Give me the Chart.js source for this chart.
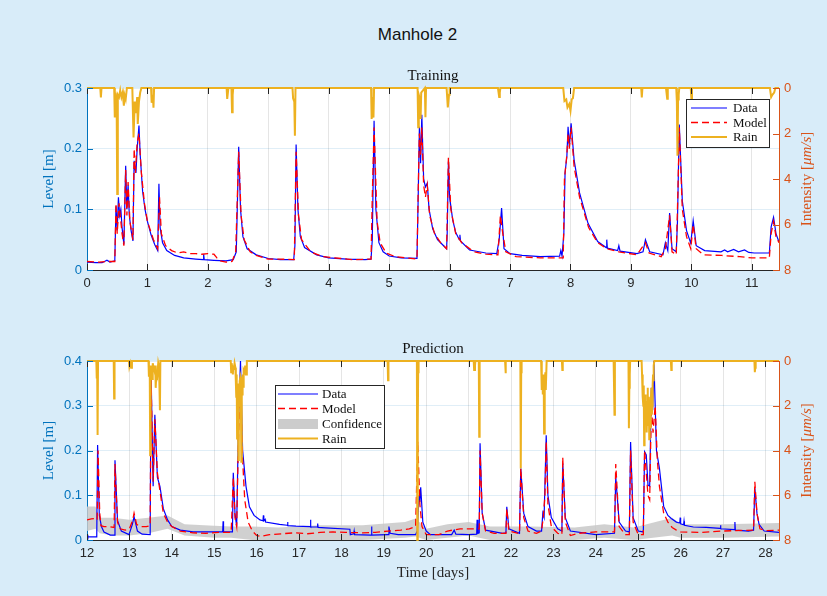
<!DOCTYPE html>
<html>
<head>
<meta charset="utf-8">
<script src="https://cdn.jsdelivr.net/npm/chart.js@4.4.0/dist/chart.umd.min.js"></script>
<style>
  body { margin: 0; }
  #fig { position: relative; width: 827px; height: 596px; background: #d8ecf9; overflow: hidden; }
  canvas { position: absolute; left: 0; }
  .sub { position: absolute; left: 87px; width: 692px; text-align: center; font: 15px 'Liberation Serif', serif; color: #111; line-height: 18px; }
  #title { position: absolute; left: 4px; width: 827px; top: 25px; text-align: center; font: 17px 'Liberation Sans', Arial, sans-serif; color: #111; line-height: 20px; }
</style>
</head>
<body>
<div id="fig">
  <canvas id="c1" width="827" height="240" style="top:60px"></canvas>
  <canvas id="c2" width="827" height="266" style="top:330px"></canvas>
  <div id="title">Manhole 2</div>
  <div class="sub" style="top:66px">Training</div>
  <div class="sub" style="top:339px">Prediction</div>
</div>
<script>
// tick labels
const trainTicks = [0, 1, 2, 3, 4, 5, 6, 7, 8, 9, 10, 11];
const predTicks = [12, 13, 14, 15, 16, 17, 18, 19, 20, 21, 22, 23, 24, 25, 26, 27, 28];
const trainLevelTicks = [0, 0.1, 0.2, 0.3];
const predLevelTicks = [0, 0.1, 0.2, 0.3, 0.4];
const rainTicks = [0, 2, 4, 6, 8];

// training: [day, level m]
const trainData = [[0,0.013],[0.15,0.012],[0.25,0.012],[0.33,0.016],[0.38,0.013],[0.46,0.015],[0.48,0.105],[0.50,0.065],[0.52,0.12],[0.54,0.09],[0.56,0.1],[0.58,0.07],[0.61,0.042],[0.64,0.172],[0.66,0.1],[0.68,0.14],[0.70,0.09],[0.73,0.065],[0.76,0.048],[0.78,0.18],[0.80,0.165],[0.81,0.16],[0.83,0.2],[0.86,0.238],[0.88,0.19],[0.92,0.13],[0.96,0.1],[1.0,0.08],[1.06,0.058],[1.12,0.042],[1.17,0.032],[1.19,0.142],[1.21,0.07],[1.25,0.045],[1.32,0.032],[1.45,0.024],[1.6,0.02],[1.8,0.018],[1.92,0.017],[1.93,0.026],[1.94,0.017],[2.1,0.016],[2.3,0.015],[2.42,0.017],[2.47,0.03],[2.51,0.203],[2.54,0.1],[2.58,0.055],[2.65,0.035],[2.8,0.025],[3.0,0.019],[3.2,0.017],[3.42,0.017],[3.44,0.04],[3.46,0.207],[3.49,0.1],[3.53,0.055],[3.6,0.037],[3.8,0.025],[4.0,0.02],[4.3,0.018],[4.6,0.017],[4.70,0.018],[4.72,0.05],[4.75,0.246],[4.78,0.1],[4.83,0.045],[4.9,0.03],[5.0,0.023],[5.2,0.02],[5.46,0.019],[5.48,0.12],[5.50,0.236],[5.52,0.176],[5.54,0.256],[5.57,0.15],[5.60,0.137],[5.63,0.143],[5.66,0.1],[5.72,0.068],[5.8,0.05],[5.88,0.042],[5.95,0.035],[5.96,0.06],[5.98,0.179],[6.0,0.12],[6.05,0.083],[6.1,0.062],[6.16,0.05],[6.17,0.058],[6.18,0.048],[6.33,0.033],[6.6,0.028],[6.78,0.027],[6.82,0.05],[6.86,0.102],[6.9,0.035],[7.0,0.027],[7.2,0.024],[7.5,0.022],[7.82,0.023],[7.84,0.032],[7.86,0.023],[7.89,0.06],[7.91,0.16],[7.94,0.187],[7.96,0.236],[7.98,0.203],[8.01,0.242],[8.06,0.181],[8.15,0.127],[8.29,0.077],[8.45,0.047],[8.59,0.037],[8.60,0.05],[8.61,0.036],[8.78,0.032],[8.80,0.04],[8.82,0.031],[9.1,0.027],[9.2,0.03],[9.24,0.05],[9.31,0.03],[9.53,0.025],[9.57,0.045],[9.61,0.032],[9.64,0.094],[9.68,0.035],[9.75,0.03],[9.77,0.08],[9.80,0.24],[9.85,0.114],[9.92,0.065],[9.99,0.044],[10.03,0.081],[10.08,0.04],[10.22,0.032],[10.49,0.03],[10.55,0.033],[10.6,0.03],[10.7,0.034],[10.78,0.03],[10.88,0.033],[10.95,0.029],[11.04,0.028],[11.29,0.028],[11.32,0.071],[11.36,0.087],[11.40,0.06],[11.45,0.046]];

const trainModel = [[0,0.014],[0.2,0.013],[0.33,0.014],[0.46,0.014],[0.48,0.11],[0.50,0.06],[0.53,0.11],[0.55,0.09],[0.58,0.06],[0.61,0.04],[0.64,0.165],[0.66,0.09],[0.68,0.145],[0.71,0.08],[0.76,0.05],[0.78,0.2],[0.80,0.16],[0.83,0.21],[0.86,0.225],[0.9,0.16],[0.95,0.11],[1.0,0.08],[1.1,0.05],[1.17,0.035],[1.2,0.12],[1.23,0.06],[1.3,0.04],[1.4,0.032],[1.5,0.028],[1.6,0.03],[1.7,0.027],[1.8,0.027],[1.9,0.026],[2.0,0.027],[2.1,0.026],[2.15,0.02],[2.2,0.015],[2.3,0.013],[2.4,0.014],[2.46,0.03],[2.51,0.195],[2.55,0.09],[2.6,0.05],[2.7,0.03],[2.8,0.024],[3.0,0.018],[3.2,0.018],[3.43,0.017],[3.46,0.195],[3.5,0.09],[3.55,0.05],[3.7,0.03],[3.9,0.022],[4.1,0.02],[4.4,0.017],[4.7,0.018],[4.72,0.12],[4.75,0.235],[4.8,0.08],[4.85,0.045],[4.95,0.028],[5.1,0.022],[5.46,0.018],[5.48,0.13],[5.50,0.225],[5.52,0.19],[5.54,0.235],[5.57,0.14],[5.60,0.12],[5.63,0.14],[5.67,0.09],[5.75,0.06],[5.85,0.045],[5.95,0.035],[5.98,0.185],[6.02,0.1],[6.1,0.06],[6.2,0.045],[6.4,0.03],[6.6,0.026],[6.8,0.025],[6.84,0.09],[6.88,0.06],[6.93,0.03],[7.1,0.022],[7.5,0.02],[7.88,0.02],[7.9,0.15],[7.94,0.19],[7.96,0.225],[7.98,0.2],[8.01,0.235],[8.06,0.17],[8.15,0.12],[8.3,0.07],[8.45,0.045],[8.6,0.035],[8.8,0.03],[9.1,0.025],[9.24,0.045],[9.3,0.028],[9.5,0.022],[9.57,0.035],[9.64,0.09],[9.68,0.03],[9.75,0.025],[9.78,0.14],[9.80,0.235],[9.85,0.1],[9.92,0.055],[9.99,0.035],[10.03,0.075],[10.08,0.035],[10.2,0.025],[10.5,0.024],[10.8,0.022],[11.0,0.02],[11.29,0.02],[11.32,0.06],[11.36,0.08],[11.40,0.055],[11.45,0.045]];

// rain intensity [um/s]
const trainRain = [[0,0],[0.22,0],[0.23,0.41],[0.24,0],[0.45,0],[0.46,1.3],[0.47,0.2],[0.49,0.5],[0.50,4.66],[0.51,0.3],[0.53,0.4],[0.55,0.1],[0.57,0.4],[0.59,0.2],[0.61,0.78],[0.62,0.3],[0.64,0.5],[0.66,0],[0.75,0],[0.77,2.17],[0.79,0.6],[0.81,1.1],[0.83,0.4],[0.84,1.58],[0.86,0.6],[0.88,0.2],[0.90,0],[1.06,0],[1.07,0.65],[1.09,0.3],[1.10,0.87],[1.11,0],[2.31,0],[2.32,0.48],[2.34,0],[2.39,0],[2.40,1.07],[2.41,0.3],[2.42,0],[3.40,0],[3.41,0.45],[3.43,0.6],[3.44,2.1],[3.45,0],[4.70,0],[4.71,1.36],[4.72,0.4],[4.74,1.3],[4.75,0],[5.47,0],[5.48,1.73],[5.49,0.3],[5.51,0.5],[5.52,1.36],[5.53,0.2],[5.59,0],[5.60,1.29],[5.61,0],[5.95,0],[5.97,0.85],[5.99,0.3],[6.0,0],[6.80,0],[6.82,0.4],[6.83,0.2],[6.84,0],[7.88,0],[7.90,0.57],[7.93,0.5],[7.95,0.85],[7.98,0.7],[8.0,1.0],[8.02,0.5],[8.04,0.45],[8.06,0],[9.17,0],[9.18,0.41],[9.19,0],[9.58,0],[9.60,0.47],[9.61,0],[9.75,0],[9.76,0.6],[9.77,2.98],[9.78,0.5],[9.79,0.3],[9.80,0],[9.99,0],[10.0,0.45],[10.01,0],[11.30,0],[11.32,0.4],[11.34,0.3],[11.37,0.2],[11.39,0],[11.45,0]];

// prediction
const predData = [[12.0,0.012],[12.02,0.007],[12.23,0.007],[12.25,0.212],[12.29,0.056],[12.34,0.03],[12.4,0.018],[12.55,0.011],[12.64,0.011],[12.66,0.178],[12.72,0.043],[12.81,0.02],[12.99,0.012],[13.07,0.035],[13.11,0.052],[13.19,0.02],[13.3,0.013],[13.49,0.012],[13.51,0.38],[13.56,0.12],[13.60,0.28],[13.66,0.14],[13.72,0.12],[13.8,0.07],[13.9,0.045],[14.0,0.03],[14.2,0.022],[14.5,0.018],[15.0,0.018],[15.2,0.018],[15.21,0.042],[15.22,0.018],[15.43,0.018],[15.45,0.15],[15.49,0.06],[15.53,0.03],[15.57,0.25],[15.62,0.4],[15.67,0.2],[15.75,0.12],[15.83,0.074],[15.94,0.055],[16.08,0.045],[16.15,0.043],[16.16,0.055],[16.17,0.043],[16.2,0.046],[16.21,0.04],[16.54,0.035],[16.72,0.033],[16.73,0.04],[16.74,0.032],[16.93,0.031],[17.26,0.03],[17.27,0.045],[17.28,0.029],[17.43,0.029],[17.44,0.037],[17.45,0.028],[17.62,0.027],[18.2,0.024],[18.21,0.012],[18.29,0.014],[18.3,0.02],[18.31,0.012],[18.7,0.011],[18.71,0.03],[18.72,0.011],[19.1,0.012],[19.12,0.03],[19.15,0.015],[19.34,0.012],[19.75,0.012],[19.79,0.02],[19.83,0.1],[19.85,0.085],[19.87,0.118],[19.92,0.04],[20.0,0.02],[20.1,0.012],[20.6,0.012],[20.66,0.022],[20.7,0.013],[21.0,0.012],[21.19,0.013],[21.2,0.045],[21.22,0.015],[21.25,0.016],[21.27,0.216],[21.32,0.06],[21.4,0.022],[21.8,0.015],[21.88,0.016],[21.9,0.074],[21.95,0.025],[22.2,0.015],[22.23,0.16],[22.3,0.06],[22.4,0.03],[22.6,0.02],[22.72,0.02],[22.75,0.06],[22.78,0.05],[22.83,0.234],[22.87,0.1],[22.95,0.05],[23.1,0.025],[23.2,0.02],[23.22,0.171],[23.28,0.05],[23.4,0.02],[24.0,0.012],[24.44,0.015],[24.47,0.141],[24.55,0.04],[24.7,0.02],[24.79,0.018],[24.82,0.219],[24.88,0.05],[25.0,0.02],[25.12,0.018],[25.15,0.197],[25.19,0.19],[25.23,0.123],[25.27,0.12],[25.31,0.34],[25.34,0.29],[25.37,0.4],[25.43,0.2],[25.5,0.16],[25.6,0.075],[25.7,0.055],[25.78,0.048],[25.9,0.04],[25.98,0.038],[25.99,0.05],[26.0,0.036],[26.07,0.034],[26.08,0.042],[26.09,0.033],[26.3,0.029],[26.6,0.028],[26.93,0.026],[26.94,0.033],[26.95,0.025],[27.27,0.023],[27.28,0.04],[27.29,0.022],[27.6,0.02],[27.72,0.022],[27.75,0.116],[27.8,0.06],[27.85,0.035],[27.97,0.02],[28.32,0.017]];

const predModel = [[12.0,0.045],[12.1,0.047],[12.2,0.048],[12.24,0.045],[12.26,0.2],[12.3,0.06],[12.33,0.032],[12.4,0.03],[12.5,0.03],[12.64,0.028],[12.66,0.17],[12.72,0.04],[12.78,0.025],[12.9,0.022],[13.0,0.025],[13.08,0.045],[13.11,0.06],[13.17,0.035],[13.25,0.03],[13.4,0.03],[13.49,0.032],[13.51,0.36],[13.56,0.13],[13.6,0.27],[13.66,0.15],[13.72,0.11],[13.8,0.06],[13.9,0.04],[14.0,0.03],[14.2,0.02],[14.5,0.016],[14.8,0.015],[15.1,0.017],[15.4,0.017],[15.45,0.14],[15.49,0.05],[15.53,0.03],[15.57,0.22],[15.62,0.35],[15.67,0.18],[15.72,0.09],[15.8,0.04],[15.9,0.02],[16.0,0.01],[16.1,0.008],[16.3,0.012],[16.6,0.014],[16.9,0.016],[17.2,0.014],[17.5,0.017],[17.8,0.018],[18.1,0.017],[18.5,0.016],[18.8,0.017],[19.1,0.02],[19.4,0.022],[19.6,0.025],[19.75,0.03],[19.8,0.22],[19.85,0.08],[19.9,0.03],[20.0,0.012],[20.3,0.012],[20.5,0.02],[20.8,0.025],[21.1,0.025],[21.25,0.025],[21.27,0.2],[21.32,0.06],[21.4,0.02],[21.6,0.015],[21.88,0.015],[21.9,0.07],[21.95,0.02],[22.2,0.014],[22.23,0.16],[22.3,0.05],[22.4,0.02],[22.6,0.015],[22.72,0.02],[22.76,0.05],[22.8,0.1],[22.83,0.22],[22.87,0.08],[22.95,0.03],[23.1,0.015],[23.2,0.012],[23.22,0.185],[23.28,0.04],[23.4,0.01],[23.6,0.015],[24.0,0.018],[24.44,0.018],[24.47,0.17],[24.55,0.03],[24.7,0.012],[24.79,0.012],[24.82,0.2],[24.88,0.04],[25.0,0.012],[25.12,0.012],[25.15,0.2],[25.19,0.15],[25.23,0.1],[25.27,0.09],[25.31,0.3],[25.35,0.24],[25.4,0.3],[25.45,0.18],[25.5,0.12],[25.6,0.06],[25.7,0.04],[25.8,0.028],[25.9,0.022],[26.0,0.018],[26.5,0.017],[27.0,0.02],[27.3,0.021],[27.72,0.022],[27.75,0.13],[27.8,0.06],[27.87,0.025],[28.0,0.021],[28.32,0.022]];

// confidence band: [day, low, high]
const predConf = [[12.0,0.02,0.075],[12.2,0.025,0.075],[12.3,0.015,0.05],[12.6,0.01,0.05],[13.0,0.01,0.045],[13.45,0.015,0.05],[13.9,0.025,0.055],[14.3,0.01,0.035],[15.0,0.005,0.032],[15.4,0.005,0.03],[15.9,0.0,0.03],[16.5,0.0,0.028],[17.5,0.0,0.033],[18.5,0.0,0.033],[19.5,0.005,0.04],[19.75,0.008,0.048],[20.0,0.0,0.025],[20.5,0.005,0.035],[21.0,0.01,0.04],[21.5,0.0,0.03],[22.5,0.0,0.03],[23.5,0.0,0.028],[24.2,0.005,0.035],[24.9,0.0,0.028],[25.8,0.01,0.05],[26.0,0.005,0.035],[27.0,0.005,0.035],[28.32,0.008,0.038]];

const predRain = [[12.0,0],[12.22,0],[12.23,0.78],[12.24,0.4],[12.25,3.31],[12.26,0],[12.63,0],[12.64,1.68],[12.65,0],[12.99,0],[13.0,0.25],[13.02,0.1],[13.04,0.3],[13.06,0],[13.45,0],[13.46,0.7],[13.47,0.2],[13.48,0.5],[13.49,4.2],[13.50,0.9],[13.51,0.6],[13.52,0.2],[13.54,0.8],[13.55,0.1],[13.56,0.2],[13.58,0.3],[13.6,0.5],[13.61,0.2],[13.62,1.2],[13.63,0.8],[13.64,0.4],[13.66,0.6],[13.68,0.1],[13.7,0.3],[13.72,2.2],[13.73,0],[15.39,0],[15.40,0.5],[15.41,0.1],[15.42,0.2],[15.44,0.6],[15.45,0.2],[15.46,0.4],[15.48,0.1],[15.5,0.3],[15.51,0.9],[15.52,1.6],[15.53,0.6],[15.54,3.46],[15.55,1.0],[15.56,1.2],[15.57,4.43],[15.58,1.2],[15.59,2.0],[15.60,0.9],[15.61,0.8],[15.62,1.8],[15.63,0.7],[15.64,4.5],[15.65,1.1],[15.66,1.5],[15.67,0.6],[15.68,0.9],[15.69,1.2],[15.70,0.4],[15.72,0.5],[15.73,0.2],[15.75,0.6],[15.77,0],[19.09,0],[19.1,0.86],[19.11,0],[19.78,0],[19.79,8],[19.8,3],[19.81,0.5],[19.82,0],[21.12,0],[21.13,0.4],[21.15,0.2],[21.16,0],[21.24,0],[21.25,3.39],[21.26,0],[21.86,0],[21.87,0.55],[21.88,0],[22.22,0],[22.23,4.8],[22.24,0.5],[22.25,0],[22.71,0],[22.72,0.8],[22.73,1.3],[22.74,0.6],[22.75,1.5],[22.76,1.0],[22.77,0.6],[22.78,3.24],[22.79,1.2],[22.8,1.0],[22.81,0.5],[22.82,1.3],[22.84,0],[23.2,0],[23.21,0.4],[23.22,0],[24.42,0],[24.44,2.4],[24.45,0],[24.77,0],[24.78,3.0],[24.79,1.2],[24.8,0.6],[24.81,0],[25.08,0],[25.09,0.6],[25.1,1.0],[25.11,1.6],[25.12,2.0],[25.13,1.1],[25.14,3.76],[25.15,2.2],[25.16,1.5],[25.17,2.4],[25.18,2.8],[25.19,1.8],[25.2,3.2],[25.21,2.1],[25.22,1.2],[25.23,2.9],[25.24,2.5],[25.25,1.6],[25.26,3.5],[25.27,2.6],[25.28,2.0],[25.29,3.0],[25.3,1.9],[25.31,1.2],[25.32,2.4],[25.33,2.0],[25.34,1.1],[25.35,0.6],[25.36,0.9],[25.37,0.2],[25.38,0],[25.77,0],[25.78,0.4],[25.79,0],[27.74,0],[27.75,0.5],[27.76,0.3],[27.77,0],[28.32,0]];

const BLUE = '#0072bd';
const ORANGE = '#d95319';
const RAIN = '#edb120';
const DARK = '#262626';
const SERIF = "'Liberation Serif', 'Times New Roman', serif";

Chart.defaults.font.family = "'Liberation Sans', Arial, sans-serif";
Chart.defaults.font.size = 13;

function pts(arr, k) {
    return arr.map(p => ({ x: p[0], y: p[k || 1] }));
}

// white plot area
const plotBg = {
    id: 'plotBg',
    beforeDraw(chart) {
        const a = chart.chartArea;
        chart.ctx.save();
        chart.ctx.fillStyle = '#ffffff';
        chart.ctx.fillRect(a.left, a.top, a.right - a.left, a.bottom - a.top);
        chart.ctx.restore();
    }
};

// matlab style ticks pointing inward
const innerTicks = {
    id: 'innerTicks',
    afterDatasetsDraw(chart) {
        const { ctx, chartArea: a, scales } = chart;
        const line = (x1, y1, x2, y2) => { ctx.beginPath(); ctx.moveTo(x1, y1); ctx.lineTo(x2, y2); ctx.stroke(); };
        ctx.save();
        ctx.lineWidth = 1;
        ctx.strokeStyle = DARK;
        scales.x.ticks.forEach(t => {
            const px = Math.round(scales.x.getPixelForValue(t.value)) + 0.5;
            line(px, a.bottom, px, a.bottom - 6);
            line(px, a.top, px, a.top + 6);
        });
        ctx.strokeStyle = BLUE;
        scales.y.ticks.forEach(t => {
            const py = Math.round(scales.y.getPixelForValue(t.value)) + 0.5;
            line(a.left, py, a.left + 6, py);
        });
        ctx.strokeStyle = ORANGE;
        scales.y2.ticks.forEach(t => {
            const py = Math.round(scales.y2.getPixelForValue(t.value)) + 0.5;
            line(a.right, py, a.right - 6, py);
        });
        ctx.restore();
    }
};

// right axis label, read bottom to top like matlab, with italic unit
const rightTitle = {
    id: 'rightTitle',
    afterDraw(chart) {
        const { ctx, chartArea: a } = chart;
        const parts = [['Intensity [', ''], ['μm/s', 'italic '], [']', '']];
        ctx.save();
        ctx.translate(a.right + 28, (a.top + a.bottom) / 2);
        ctx.rotate(-Math.PI / 2);
        ctx.fillStyle = ORANGE;
        ctx.textBaseline = 'middle';
        let total = 0;
        parts.forEach(p => { ctx.font = p[1] + '15px ' + SERIF; total += ctx.measureText(p[0]).width; });
        let x = -total / 2;
        parts.forEach(p => {
            ctx.font = p[1] + '15px ' + SERIF;
            ctx.fillText(p[0], x, 0);
            x += ctx.measureText(p[0]).width;
        });
        ctx.restore();
    }
};

// legend box inside the axes
const boxLegend = {
    id: 'boxLegend',
    afterDraw(chart, args, opts) {
        const { ctx, chartArea: a } = chart;
        const x0 = a.left + opts.x, y0 = a.top + opts.y;
        ctx.save();
        ctx.fillStyle = '#ffffff';
        ctx.fillRect(x0, y0, opts.w, opts.h);
        ctx.strokeStyle = DARK;
        ctx.lineWidth = 1;
        ctx.strokeRect(x0 + 0.5, y0 + 0.5, opts.w, opts.h);
        ctx.font = '13px ' + SERIF;
        ctx.textBaseline = 'middle';
        opts.items.forEach((it, i) => {
            const cy = y0 + opts.rows[i];
            if (it.patch) {
                ctx.fillStyle = '#cccccc';
                ctx.fillRect(x0 + opts.s0, cy - 5, opts.s1 - opts.s0, 10);
            } else {
                ctx.strokeStyle = it.color;
                ctx.lineWidth = it.width;
                ctx.setLineDash(it.dash || []);
                ctx.beginPath();
                ctx.moveTo(x0 + opts.s0, cy);
                ctx.lineTo(x0 + opts.s1, cy);
                ctx.stroke();
                ctx.setLineDash([]);
            }
            ctx.fillStyle = '#111';
            ctx.fillText(it.label, x0 + opts.tx, cy + 1);
        });
        ctx.restore();
    }
};

function makeChart(id, cfg) {
    const ctx = document.getElementById(id).getContext('2d');
    const datasets = [
        {
            label: 'Rain', data: pts(cfg.rain), yAxisID: 'y2', order: 0,
            borderColor: RAIN, borderWidth: 2, clip: false
        },
        {
            label: 'Model', data: pts(cfg.model), yAxisID: 'y', order: 1,
            borderColor: '#ff0000', borderWidth: 1.3, borderDash: [7, 4]
        },
        {
            label: 'Data', data: pts(cfg.data), yAxisID: 'y', order: 2,
            borderColor: '#0000ff', borderWidth: 1.2
        }
    ];
    if (cfg.conf) {
        datasets.push({
            label: 'ConfLow', data: pts(cfg.conf, 1), yAxisID: 'y', order: 4,
            borderWidth: 0, borderColor: 'rgba(0,0,0,0)'
        });
        datasets.push({
            label: 'Confidence', data: pts(cfg.conf, 2), yAxisID: 'y', order: 3,
            borderWidth: 0, borderColor: 'rgba(0,0,0,0)',
            backgroundColor: 'rgba(200,200,200,0.85)', fill: '-1'
        });
    }
    datasets.forEach(d => { d.pointRadius = 0; d.tension = 0; });

    return new Chart(ctx, {
        type: 'line',
        data: { datasets: datasets },
        options: {
            responsive: false,
            animation: false,
            devicePixelRatio: 1,
            layout: { padding: { left: 40, top: cfg.padTop, right: 0, bottom: cfg.padBottom } },
            plugins: {
                legend: { display: false },
                tooltip: { enabled: false },
                boxLegend: cfg.legend
            },
            scales: {
                x: {
                    type: 'linear', min: cfg.xMin, max: cfg.xMax,
                    afterBuildTicks: s => { s.ticks = cfg.xTicks.map(v => ({ value: v })); },
                    afterFit: s => { s.height = cfg.xHeight; },
                    ticks: { color: DARK, padding: 6, maxRotation: 0, autoSkip: false },
                    grid: { color: 'rgba(38,38,38,0.12)', drawTicks: false },
                    border: { color: DARK },
                    title: {
                        display: !!cfg.xTitle, text: cfg.xTitle, color: DARK,
                        font: { family: SERIF, size: 15 }, padding: { top: 0, bottom: 4 }
                    }
                },
                y: {
                    position: 'left', min: 0, max: cfg.yMax,
                    afterBuildTicks: s => { s.ticks = cfg.yTicks.map(v => ({ value: v })); },
                    afterFit: s => { s.width = 47; },
                    ticks: { color: BLUE, padding: 5 },
                    grid: { color: 'rgba(0,114,189,0.12)', drawTicks: false },
                    border: { color: BLUE },
                    title: {
                        display: true, text: 'Level [m]', color: BLUE,
                        font: { family: SERIF, size: 15 }, padding: { top: 0, bottom: 0 }
                    }
                },
                y2: {
                    position: 'right', min: 0, max: 8, reverse: true,
                    afterBuildTicks: s => { s.ticks = rainTicks.map(v => ({ value: v })); },
                    afterFit: s => { s.width = 48; },
                    ticks: { color: ORANGE, padding: 5 },
                    grid: { drawOnChartArea: false, drawTicks: false },
                    border: { color: ORANGE }
                }
            }
        },
        plugins: [plotBg, innerTicks, rightTitle, boxLegend]
    });
}

makeChart('c1', {
    data: trainData, model: trainModel, rain: trainRain,
    xMin: 0, xMax: 11.45, xTicks: trainTicks, yMax: 0.3, yTicks: trainLevelTicks,
    padTop: 28, padBottom: 0, xHeight: 30,
    legend: {
        x: 599, y: 11, w: 83, h: 48, s0: 5, s1: 41, tx: 47, rows: [9, 23.5, 38],
        items: [
            { label: 'Data', color: '#0000ff', width: 1.2 },
            { label: 'Model', color: '#ff0000', width: 1.3, dash: [7, 4] },
            { label: 'Rain', color: RAIN, width: 2 }
        ]
    }
});

makeChart('c2', {
    data: predData, model: predModel, rain: predRain, conf: predConf,
    xMin: 12, xMax: 28.32, xTicks: predTicks, yMax: 0.4, yTicks: predLevelTicks,
    padTop: 31, padBottom: 10, xHeight: 46, xTitle: 'Time [days]',
    legend: {
        x: 188, y: 24, w: 109, h: 63, s0: 3, s1: 43, tx: 47, rows: [9, 23.5, 39, 53.5],
        items: [
            { label: 'Data', color: '#0000ff', width: 1.2 },
            { label: 'Model', color: '#ff0000', width: 1.3, dash: [7, 4] },
            { label: 'Confidence', patch: true },
            { label: 'Rain', color: RAIN, width: 2 }
        ]
    }
});
</script>
</body>
</html>
